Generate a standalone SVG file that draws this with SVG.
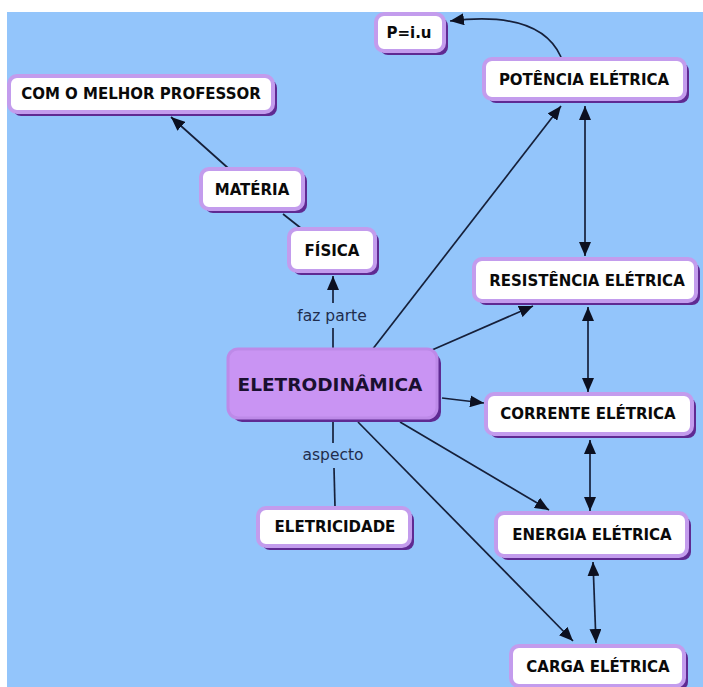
<svg xmlns="http://www.w3.org/2000/svg" width="703" height="687" viewBox="0 0 703 687">
  <style>
    .bg { fill: #93c5fb; }
    .shadow { fill: #5f2a92; }
    .box { fill: #ffffff; stroke: #c39ced; stroke-width: 4; }
    .main { fill: #c994f3; stroke: #bd8ae8; stroke-width: 3; }
    .t { font-family: "DejaVu Sans", Verdana, sans-serif; font-weight: bold; font-size: 15px; fill: #0a0a0a; text-anchor: middle; dominant-baseline: central; }
    .tm { font-size: 18.5px; fill: #1a1030; }
    .lbl { font-family: "DejaVu Sans", Verdana, sans-serif; font-size: 15.5px; fill: #1f2d4d; text-anchor: middle; dominant-baseline: central; }
    .c { stroke: #16203a; stroke-width: 1.7; fill: none; }
    .a { marker-end: url(#arrow); }
    .b { marker-start: url(#arrow); marker-end: url(#arrow); }
  </style>
  <defs>
    <marker id="arrow" viewBox="0 0 14 12" refX="14" refY="6" markerWidth="14" markerHeight="12" markerUnits="userSpaceOnUse" orient="auto-start-reverse">
      <path d="M0,0 L14,6 L0,12 z" fill="#0c1020"/>
    </marker>
  </defs>

  <rect width="703" height="687" fill="#ffffff"/>
  <rect class="bg" x="7" y="12" width="696" height="675"/>

  <g id="connectors">
    <line class="c a" x1="228" y1="168" x2="171" y2="117"/>
    <line class="c" x1="283" y1="214" x2="302" y2="229"/>
    <line class="c" x1="333" y1="348" x2="333" y2="328"/>
    <line class="c a" x1="333" y1="303" x2="333" y2="276"/>
    <text class="lbl" x="332" y="316">faz parte</text>
    <line class="c" x1="333" y1="422" x2="333" y2="443"/>
    <text class="lbl" x="333" y="455">aspecto</text>
    <line class="c" x1="334" y1="468" x2="335" y2="507"/>
    <line class="c a" x1="372" y1="350" x2="561" y2="106"/>
    <line class="c b" x1="585" y1="106" x2="585" y2="256"/>
    <line class="c a" x1="432" y1="350" x2="533" y2="306"/>
    <line class="c a" x1="442" y1="398" x2="484" y2="403"/>
    <line class="c b" x1="588" y1="307" x2="588" y2="392"/>
    <line class="c b" x1="590" y1="440" x2="590" y2="511"/>
    <line class="c a" x1="400" y1="422" x2="549" y2="510"/>
    <line class="c a" x1="358" y1="422" x2="573" y2="641"/>
    <line class="c b" x1="593" y1="562" x2="596" y2="643"/>
    <path class="c a" d="M561,57 Q540,10 450,21"/>
  </g>

  <g id="node-com-o-melhor-professor">
    <rect class="shadow" x="13" y="80" width="264" height="36" rx="8"/>
    <rect class="box" x="9" y="76" width="264" height="36" rx="8"/>
    <text class="t" x="141" y="94">COM O MELHOR PROFESSOR</text>
  </g>
  <g id="node-p-iu">
    <rect class="shadow" x="380" y="18" width="68" height="37" rx="8"/>
    <rect class="box" x="376" y="14" width="68" height="37" rx="8"/>
    <text class="t" x="409" y="33">P=i.u</text>
  </g>
  <g id="node-potencia">
    <rect class="shadow" x="488" y="63" width="201" height="40" rx="8"/>
    <rect class="box" x="484" y="59" width="201" height="40" rx="8"/>
    <text class="t" x="584" y="80">POTÊNCIA ELÉTRICA</text>
  </g>
  <g id="node-materia">
    <rect class="shadow" x="205" y="173" width="102" height="40" rx="8"/>
    <rect class="box" x="201" y="169" width="102" height="40" rx="8"/>
    <text class="t" x="252" y="190">MATÉRIA</text>
  </g>
  <g id="node-fisica">
    <rect class="shadow" x="293" y="233" width="86" height="42" rx="8"/>
    <rect class="box" x="289" y="229" width="86" height="42" rx="8"/>
    <text class="t" x="332" y="251">FÍSICA</text>
  </g>
  <g id="node-resistencia">
    <rect class="shadow" x="478" y="263" width="222" height="42" rx="8"/>
    <rect class="box" x="474" y="259" width="222" height="42" rx="8"/>
    <text class="t" x="587" y="281">RESISTÊNCIA ELÉTRICA</text>
  </g>
  <g id="node-eletrodinamica">
    <rect class="shadow" x="232" y="353" width="209" height="69" rx="10"/>
    <rect class="main" x="228" y="349" width="209" height="69" rx="10"/>
    <text class="t tm" x="330" y="384">ELETRODINÂMICA</text>
  </g>
  <g id="node-corrente">
    <rect class="shadow" x="490" y="398" width="206" height="40" rx="8"/>
    <rect class="box" x="486" y="394" width="206" height="40" rx="8"/>
    <text class="t" x="588" y="414">CORRENTE ELÉTRICA</text>
  </g>
  <g id="node-eletricidade">
    <rect class="shadow" x="262" y="512" width="152" height="38" rx="8"/>
    <rect class="box" x="258" y="508" width="152" height="38" rx="8"/>
    <text class="t" x="335" y="527">ELETRICIDADE</text>
  </g>
  <g id="node-energia">
    <rect class="shadow" x="500" y="517" width="191" height="43" rx="8"/>
    <rect class="box" x="496" y="513" width="191" height="43" rx="8"/>
    <text class="t" x="592" y="535">ENERGIA ELÉTRICA</text>
  </g>
  <g id="node-carga">
    <rect class="shadow" x="515" y="650" width="173" height="40" rx="8"/>
    <rect class="box" x="511" y="646" width="173" height="40" rx="8"/>
    <text class="t" x="598" y="667">CARGA ELÉTRICA</text>
  </g>
</svg>
